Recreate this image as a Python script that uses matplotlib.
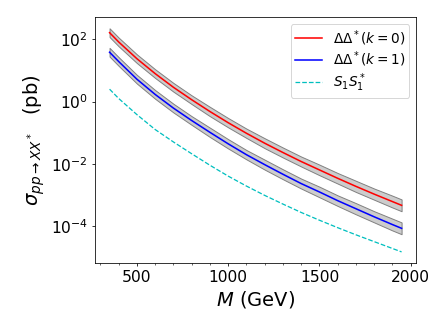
import numpy as np
import matplotlib
matplotlib.use('Agg')
import matplotlib.pyplot as plt

# masses (GeV)
masses = [350, 400, 500, 600, 700, 800, 900, 1000, 1100, 1200, 1300, 1400,
          1500, 1600, 1700, 1800, 1900, 1950]

# log10 of cross sections (pb)
log_dd_k0 = [2.22, 1.92, 1.38, 0.90, 0.46, 0.06, -0.32, -0.68, -1.02, -1.34,
             -1.64, -1.93, -2.20, -2.47, -2.73, -2.98, -3.22, -3.34]
log_dd_k1 = [1.59, 1.29, 0.72, 0.23, -0.21, -0.61, -0.99, -1.36, -1.71, -2.03,
             -2.34, -2.64, -2.91, -3.19, -3.45, -3.71, -3.96, -4.08]
log_s1s1 = [0.40, 0.10, -0.42, -0.90, -1.30, -1.68, -2.05, -2.40, -2.72, -3.02,
            -3.30, -3.57, -3.82, -4.06, -4.29, -4.51, -4.73, -4.84]

# uncertainty band (log10 offsets)
band_up = [0.14, 0.14, 0.14, 0.14, 0.14, 0.14, 0.15, 0.15, 0.15, 0.16,
           0.16, 0.16, 0.17, 0.17, 0.18, 0.18, 0.19, 0.19]
band_dn = [0.14, 0.14, 0.14, 0.14, 0.14, 0.14, 0.15, 0.15, 0.15, 0.16,
           0.16, 0.16, 0.17, 0.17, 0.18, 0.18, 0.19, 0.19]

m = np.array(masses)
up = np.array(band_up)
dn = np.array(band_dn)

fig, ax = plt.subplots(figsize=(6.4, 4.8), dpi=70)
plt.subplots_adjust(left=0.212, right=0.929, bottom=0.217, top=0.949)

for vals in (log_dd_k0, log_dd_k1):
    v = np.array(vals)
    ax.fill_between(m, 10 ** (v - dn), 10 ** (v + up), facecolor='#cccccc',
                    edgecolor='gray', linewidth=1.0)

ax.plot(m, 10 ** np.array(log_dd_k0), 'r-', lw=1.6, label=r'$\Delta\Delta^*(k=0)$')
ax.plot(m, 10 ** np.array(log_dd_k1), 'b-', lw=1.6, label=r'$\Delta\Delta^*(k=1)$')
ax.plot(m, 10 ** np.array(log_s1s1), 'c--', lw=1.3, label=r'$S_1S_1^*$')

ax.set_yscale('log')
ax.set_xticks([500, 1000, 1500, 2000])
ax.xaxis.set_minor_locator(matplotlib.ticker.MultipleLocator(100))
ax.tick_params(labelsize=16)
ax.set_xlabel(r'$M$ (GeV)', fontsize=20)
ax.set_ylabel(r'$\sigma_{pp\rightarrow XX^*}\;\;\;$(pb)', fontsize=20)
ax.legend(loc='upper right', fontsize=14, labelspacing=0.15, borderpad=0.3)

plt.savefig('out.png')
